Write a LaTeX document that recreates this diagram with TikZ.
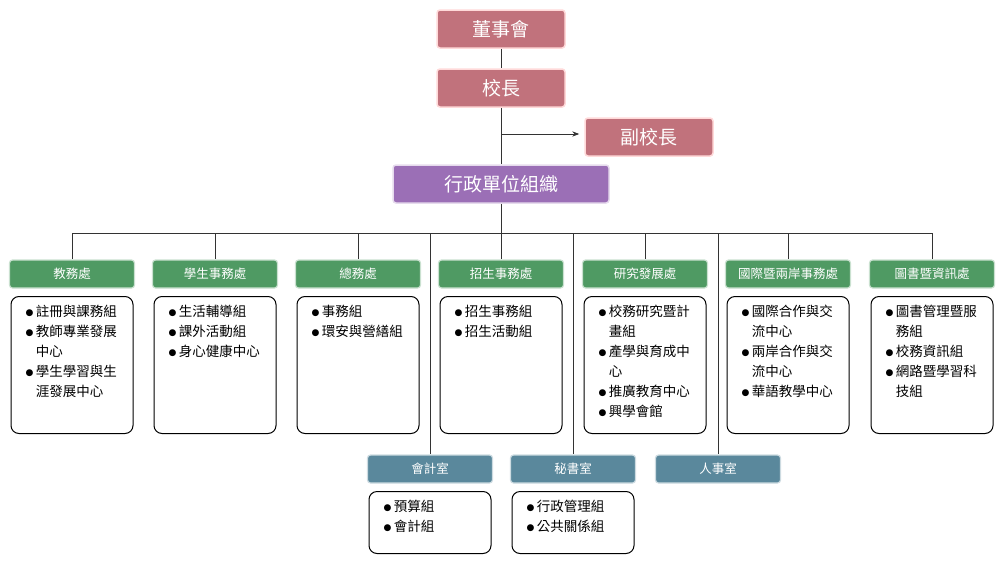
\documentclass[tikz,border=0pt]{standalone}
\usepackage{fontspec}
\newfontfamily\cjk{Noto Sans CJK TC}
\newfontfamily\dotf{DejaVu Sans}
\usetikzlibrary{positioning,arrows.meta}
\tikzset{
  top/.style={draw=red!15, line width=1.5pt, fill=topc, rounded corners=3pt,
    minimum width=128pt, minimum height=38pt, font=\cjk\fontsize{19}{19}\selectfont, text=white},
  head/.style={draw=hgreen!30, line width=1.2pt, fill=hgreen, rounded corners=3pt,
    minimum width=125pt, minimum height=28pt, font=\cjk\fontsize{12.5}{12.5}\selectfont, text=white},
  lower/.style={head, fill=hblue, draw=hblue!30},
  unit/.style={draw, line width=1pt, rounded corners=8pt, minimum width=122pt,
    anchor=north},
  items/.style={anchor=north west, align=left, inner sep=0pt,
    font=\cjk\fontsize{13.5}{20}\selectfont},
  link/.style={line width=0.9pt, draw=black!80}
}
\definecolor{topc}{HTML}{C1727C}
\definecolor{hgreen}{HTML}{4F9A63}
\definecolor{hblue}{HTML}{5A889C}
\definecolor{admin}{HTML}{9B6FB6}
\newcommand{\itm}{{\dotf\fontsize{9}{9}\selectfont\raisebox{1pt}{●}}\,}
\newcommand{\cnt}{\phantom{\itm}}
\begin{document}
\begin{tikzpicture}[x=1pt, y=-1pt]
\useasboundingbox (0,0) rectangle (1006,570);
% top of the chart
\node[top] (board) at (501,29) {董事會};
\node[top] (pres) at (501,88) {校長};
\node[top] (vice) at (649,137) {副校長};
\node[top, fill=admin, draw=admin!25, minimum width=216pt] (admin) at (501,184) {行政單位組織};
\coordinate (fork) at (501,134);
\coordinate (bus) at (501,233);
\draw[link] (board) -- (pres);
\draw[link] (pres) -- (admin);
\draw[link, -{Stealth[length=7pt]}] (fork) -- ([xshift=-5pt]fork -| vice.west);
% offices
\foreach \n/\x/\t in {aca/72/教務處, stu/215/學生事務處, gen/358/總務處, adm/501/招生事務處,
  res/645/研究發展處, int/788/國際暨兩岸事務處, lib/932/圖書暨資訊處}{
  \node[head] (\n) at (\x,274) {\t};
  \draw[link] (\x,233) -- (\n.north);
  \node[unit, minimum height=137pt] (\n-box) at (\x,296) {};
}
\draw[link] (admin) -- (bus);
\draw[link] (aca.north |- bus) -- (lib.north |- bus);
\foreach \n/\x/\t in {acc/430/會計室, sec/573/秘書室, per/718/人事室}{
  \node[lower] (\n) at (\x,469) {\t};
  \draw[link] (\x,233) -- (\n.north);
}
\node[unit, minimum height=62pt] (acc-box) at (430,491) {};
\node[unit, minimum height=62pt] (sec-box) at (573,491) {};
% unit contents
\node[items] at ([xshift=15pt,yshift=-9pt]aca-box.north west)
  {\itm 註冊與課務組\\ \itm 教師專業發展\\ \cnt 中心\\ \itm 學生學習與生\\ \cnt 涯發展中心};
\node[items] at ([xshift=15pt,yshift=-9pt]stu-box.north west)
  {\itm 生活輔導組\\ \itm 課外活動組\\ \itm 身心健康中心};
\node[items] at ([xshift=15pt,yshift=-9pt]gen-box.north west)
  {\itm 事務組\\ \itm 環安與營繕組};
\node[items] at ([xshift=15pt,yshift=-9pt]adm-box.north west)
  {\itm 招生事務組\\ \itm 招生活動組};
\node[items] at ([xshift=15pt,yshift=-9pt]res-box.north west)
  {\itm 校務研究暨計\\ \cnt 畫組\\ \itm 產學與育成中\\ \cnt 心\\ \itm 推廣教育中心\\ \itm 興學會館};
\node[items] at ([xshift=15pt,yshift=-9pt]int-box.north west)
  {\itm 國際合作與交\\ \cnt 流中心\\ \itm 兩岸合作與交\\ \cnt 流中心\\ \itm 華語教學中心};
\node[items] at ([xshift=15pt,yshift=-9pt]lib-box.north west)
  {\itm 圖書管理暨服\\ \cnt 務組\\ \itm 校務資訊組\\ \itm 網路暨學習科\\ \cnt 技組};
\node[items] at ([xshift=15pt,yshift=-9pt]acc-box.north west)
  {\itm 預算組\\ \itm 會計組};
\node[items] at ([xshift=15pt,yshift=-9pt]sec-box.north west)
  {\itm 行政管理組\\ \itm 公共關係組};
\end{tikzpicture}
\end{document}
